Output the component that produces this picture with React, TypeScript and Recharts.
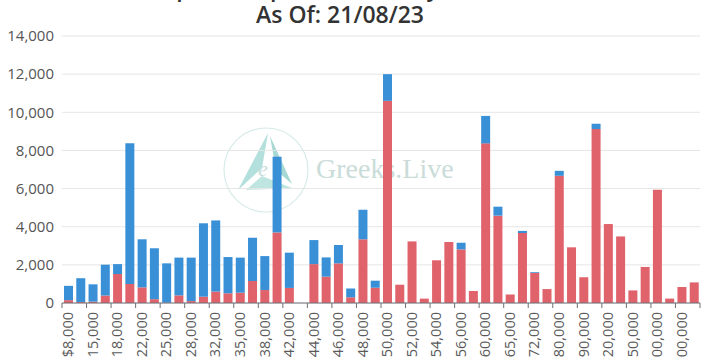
import { BarChart, Bar, XAxis, YAxis, CartesianGrid } from 'recharts';

const strikes = [
  '$8,000', '10,000', '15,000', '16,000', '18,000', '20,000', '22,000', '24,000', '25,000', '26,000',
  '28,000', '30,000', '32,000', '34,000', '35,000', '36,000', '38,000', '40,000', '42,000', '43,000',
  '44,000', '45,000', '46,000', '47,000', '48,000', '49,000', '50,000', '51,000', '52,000', '53,000',
  '54,000', '55,000', '56,000', '58,000', '60,000', '62,000', '65,000', '70,000', '72,000', '75,000',
  '80,000', '85,000', '90,000', '100,000', '120,000', '130,000', '150,000', '180,000', '200,000', '250,000',
  '300,000', '400,000',
];

// red, bottom of the stack
const calls = [
  150, 50, 70, 390, 1520, 1000, 820, 200, 20, 400,
  100, 330, 600, 510, 540, 1150, 680, 3700, 790, 0,
  2040, 1380, 2080, 300, 3340, 800, 10600, 960, 3230, 230,
  2240, 3200, 2810, 630, 8370, 4580, 450, 3670, 1580, 730,
  6670, 2920, 1350, 9120, 4140, 3490, 660, 1890, 5940, 230,
  840, 1080,
];

// blue, top of the stack
const puts = [
  750, 1250, 910, 1620, 520, 7380, 2520, 2670, 2060, 1980,
  2280, 3850, 3730, 1900, 1840, 2270, 1780, 3970, 1850, 0,
  1260, 1010, 960, 460, 1550, 370, 1400, 0, 0, 0,
  0, 0, 350, 0, 1440, 470, 0, 110, 40, 0,
  260, 0, 0, 280, 0, 0, 0, 0, 0, 0,
  0, 0,
];

const yTicks = [0, 2000, 4000, 6000, 8000, 10000, 12000, 14000];

const data = strikes.map((strike, i) => ({ strike, calls: calls[i], puts: puts[i] }));

const W = 708;
const H = 357;
const LEFT = 62;
const RIGHT = 8;
const BAND = (W - LEFT - RIGHT) / strikes.length;
const FONT = '"Open Sans", "Noto Sans", sans-serif';

function StrikeTick(props: any) {
  const { x, y, payload } = props;
  const idx = payload.index ?? strikes.indexOf(payload.value);
  const axisY = y - 9;
  return (
    <g>
      {idx % 2 === 0 && (
        <>
          <line x1={x - BAND / 2} x2={x - BAND / 2} y1={axisY} y2={axisY + 5} stroke="#6e7079" />
          <text
            x={x}
            y={y}
            dy="0.35em"
            transform={`rotate(-90 ${x} ${y})`}
            textAnchor="end"
            fill="#5a5a5a"
            fontSize={14.5}
            fontFamily={FONT}
          >
            {payload.value}
          </text>
        </>
      )}
      {idx === strikes.length - 1 && (
        <line x1={x + BAND / 2} x2={x + BAND / 2} y1={axisY} y2={axisY + 5} stroke="#6e7079" />
      )}
    </g>
  );
}

function Watermark() {
  return (
    <svg width={W} height={H} style={{ position: 'absolute', left: 0, top: 0 }}>
      <circle cx={266} cy={170} r={42} fill="none" stroke="#d6ebe9" strokeWidth={1.2} />
      <polygon points="268,133 238,190 262,168" fill="#b3e0dc" />
      <polygon points="270,136 292,184 276,170" fill="#a6d9d4" />
      <polygon points="246,190 292,188 262,176" fill="#bfe5e1" />
      <text x={258} y={176} fontSize={22} fontStyle="italic" fontFamily="Liberation Serif, serif" fill="#c9dedb">
        e
      </text>
      <text x={316} y={178} fontSize={28} fontFamily="Liberation Serif, serif" fill="#cadcd9">
        Greeks.Live
      </text>
    </svg>
  );
}

export default function App() {
  return (
    <div style={{ position: 'fixed', left: 0, top: 0, width: W, height: H, overflow: 'hidden', background: '#fff' }}>
      <Watermark />
      <svg width={W} height={40} style={{ position: 'absolute', left: 0, top: 0 }}>
        <text x={340} y={-4} textAnchor="middle" fontSize={23} fontWeight={600} fontFamily={FONT} fill="#333">
          BTC Options Open Interest By Strike Price
        </text>
        <text x={340} y={23} textAnchor="middle" fontSize={23} fontWeight={600} fontFamily={FONT} fill="#333">
          As Of: 21/08/23
        </text>
      </svg>
      <div style={{ position: 'absolute', left: 0, top: 0 }}>
        <BarChart width={W} height={H} data={data} margin={{ top: 36, right: RIGHT, bottom: 0, left: 0 }}>
          <CartesianGrid vertical={false} stroke="#e6e6e6" />
          <XAxis
            dataKey="strike"
            interval={0}
            height={54}
            tickSize={5}
            tickMargin={4}
            tickLine={false}
            axisLine={{ stroke: '#6e7079' }}
            tick={<StrikeTick />}
          />
          <YAxis
            width={LEFT}
            domain={[0, 14000]}
            ticks={yTicks}
            axisLine={false}
            tickLine={false}
            tickFormatter={(v: number) => v.toLocaleString('en-US')}
            tick={{ fill: '#555', fontSize: 15, fontFamily: FONT }}
          />
          <Bar dataKey="calls" stackId="oi" fill="#e0626b" barSize={9} isAnimationActive={false} />
          <Bar dataKey="puts" stackId="oi" fill="#3a90d6" barSize={9} isAnimationActive={false} />
        </BarChart>
      </div>
    </div>
  );
}
